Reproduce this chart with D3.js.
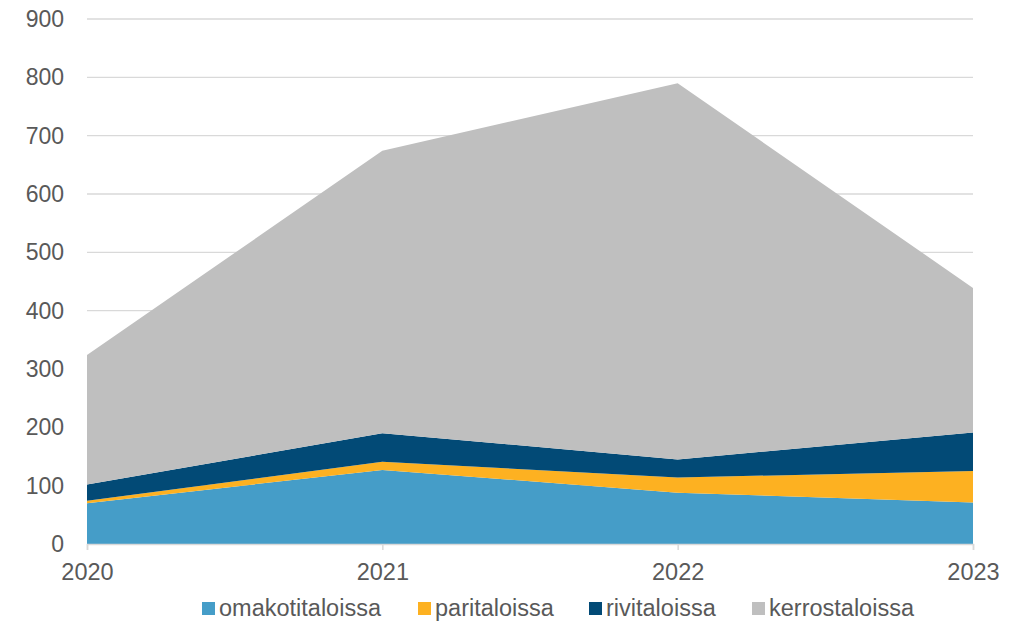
<!DOCTYPE html>
<html>
<head>
<meta charset="utf-8">
<script src="https://cdn.jsdelivr.net/npm/d3@7"></script>
<style>
  body { margin: 0; background: #fff; }
  text { font-family: "Liberation Sans", Arial, sans-serif; fill: #595959; }
</style>
</head>
<body>
<div id="chart"></div>
<script>
// data
var years = ["2020", "2021", "2022", "2023"];
var omakotitaloissa = [70, 127, 88, 71];
var paritaloissa = [4, 14, 26, 54];
var rivitaloissa = [28, 49, 31, 66];
var kerrostaloissa = [222, 484, 645, 248];
var yTicks = [0, 100, 200, 300, 400, 500, 600, 700, 800, 900];

var seriesNames = ["omakotitaloissa", "paritaloissa", "rivitaloissa", "kerrostaloissa"];
var colors = ["#459dc8", "#fdb121", "#024a76", "#bfbfbf"];

var W = 1021, H = 621;
var margin = { top: 19, right: 48, bottom: 77, left: 87 },
    width = W - margin.left - margin.right,
    height = H - margin.top - margin.bottom;

var svg = d3.select("#chart")
  .append("svg")
    .attr("width", W)
    .attr("height", H)
  .append("g")
    .attr("transform", "translate(" + margin.left + "," + margin.top + ")");

// build a table for d3.stack
var table = years.map(function(y, i) {
  return {
    year: y,
    omakotitaloissa: omakotitaloissa[i],
    paritaloissa: paritaloissa[i],
    rivitaloissa: rivitaloissa[i],
    kerrostaloissa: kerrostaloissa[i]
  };
});

var stacked = d3.stack().keys(seriesNames)(table);

var x = d3.scalePoint().domain(years).range([0, width]);
var y = d3.scaleLinear().domain([0, 900]).range([height, 0]);

// gridlines
svg.append("g")
  .selectAll("line")
  .data(yTicks.filter(function(d) { return d > 0; }))
  .enter()
  .append("line")
  .attr("x1", 0)
  .attr("x2", width)
  .attr("y1", function(d) { return y(d); })
  .attr("y2", function(d) { return y(d); })
  .attr("stroke", "#d9d9d9")
  .attr("stroke-width", 1.3);

// areas
var area = d3.area()
  .x(function(d) { return x(d.data.year); })
  .y0(function(d) { return y(d[0]); })
  .y1(function(d) { return y(d[1]); });

svg.append("g")
  .selectAll("path")
  .data(stacked)
  .enter()
  .append("path")
  .attr("d", area)
  .attr("fill", function(d, i) { return colors[i]; });

// y axis labels
var yAxis = d3.axisLeft(y).tickValues(yTicks).tickSize(0).tickPadding(23);
svg.append("g")
  .call(yAxis)
  .call(function(g) { g.select(".domain").remove(); })
  .selectAll("text")
  .style("font-size", "23px")
  .attr("fill", "#595959");

// x axis
var xAxis = d3.axisBottom(x).tickSize(6).tickPadding(13);
var xg = svg.append("g")
  .attr("transform", "translate(0," + height + ")")
  .call(xAxis);
xg.select(".domain").attr("stroke", "#d9d9d9").attr("stroke-width", 1.5);
xg.selectAll("line").attr("stroke", "#d9d9d9").attr("stroke-width", 1.5);
xg.selectAll("text")
  .style("font-size", "23.5px")
  .attr("fill", "#595959");

// legend
var legendX = [115, 331, 502, 665];
var legend = svg.append("g")
  .attr("transform", "translate(0," + (height + 64) + ")");

var item = legend.selectAll("g")
  .data(seriesNames)
  .enter()
  .append("g")
  .attr("transform", function(d, i) { return "translate(" + legendX[i] + ",0)"; });

item.append("rect")
  .attr("x", 0)
  .attr("y", -6)
  .attr("width", 13)
  .attr("height", 13)
  .attr("fill", function(d, i) { return colors[i]; });

item.append("text")
  .attr("x", 17)
  .attr("y", 0)
  .attr("dy", "0.33em")
  .style("font-size", "23.5px")
  .text(function(d) { return d; });
</script>
</body>
</html>
